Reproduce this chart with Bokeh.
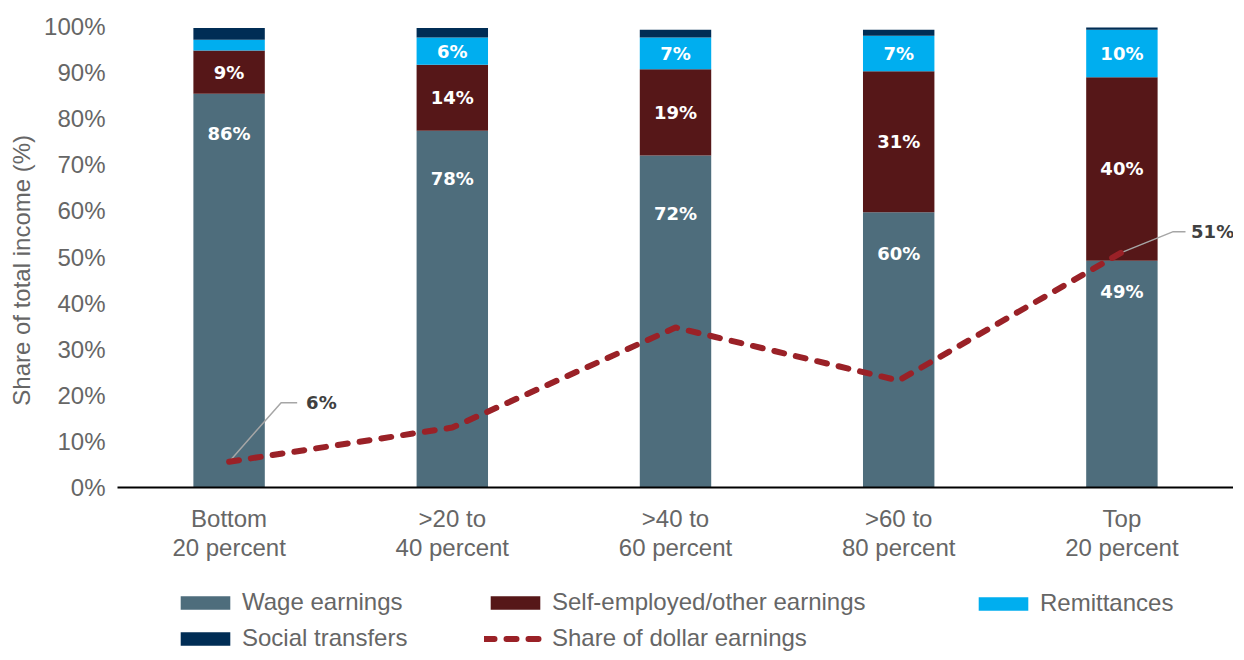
from bokeh.plotting import figure
from bokeh.layouts import column
from bokeh.models import (ColumnDataSource, Range1d, FixedTicker, PrintfTickFormatter,
                          Legend, LegendItem)
from bokeh.core.properties import value
from bokeh.embed import file_html
from bokeh.resources import INLINE

# ---- data ----
categories = ["Bottom\n20 percent", ">20 to\n40 percent", ">40 to\n60 percent",
              ">60 to\n80 percent", "Top\n20 percent"]
wage = [85.4, 77.4, 72.0, 59.7, 49.2]
self_emp = [9.4, 14.3, 18.7, 30.6, 39.8]
remit = [2.3, 5.9, 6.9, 7.7, 10.3]
social = [2.6, 2.1, 1.7, 1.3, 0.5]
dollar = [5.6, 13.0, 34.7, 23.2, 51.0]
wage_labels = ["86%", "78%", "72%", "60%", "49%"]
self_labels = ["9%", "14%", "19%", "31%", "40%"]
remit_labels = ["", "6%", "7%", "7%", "10%"]
dollar_labels = ["6%", "", "", "", "51%"]
wage_label_y = [76.8, 67.0, 59.4, 50.8, 42.5]
series_names = ["Wage earnings", "Self-employed/other earnings", "Remittances",
                "Social transfers", "Share of dollar earnings"]

C_WAGE = "#4E6D7C"
C_SELF = "#561718"
C_REMIT = "#00AEEF"
C_SOCIAL = "#002D55"
C_LINE = "#9A2127"
GRAY = "#666666"
FONT = "Liberation Sans"
BFONT = "DejaVu Sans"

xs = list(range(len(categories)))
b1 = wage
b2 = [a + b for a, b in zip(b1, self_emp)]
b3 = [a + b for a, b in zip(b2, remit)]
b4 = [a + b for a, b in zip(b3, social)]

src = ColumnDataSource(dict(
    x=xs, b1=b1, b2=b2, b3=b3, b4=b4, dollar=dollar,
    wage_lab=wage_labels, wage_y=wage_label_y,
    self_lab=self_labels, self_y=[(a + b) / 2 for a, b in zip(b1, b2)],
    remit_lab=remit_labels, remit_y=[(a + b) / 2 for a, b in zip(b2, b3)],
))

FIG_W = 1233
LEFT = 117
p = figure(width=FIG_W, height=568, x_range=Range1d(-0.5, 4.5), y_range=Range1d(0, 100),
           output_backend="svg", toolbar_location=None,
           min_border_left=LEFT, min_border_right=0, min_border_top=26, min_border_bottom=81)
p.outline_line_color = None
p.grid.visible = False

W = 0.32


def draw_series(fig, **extra):
    return [
        fig.vbar(x="x", bottom=0, top="b1", width=W, source=src, fill_color=C_WAGE, line_color=None, **extra),
        fig.vbar(x="x", bottom="b1", top="b2", width=W, source=src, fill_color=C_SELF, line_color=None, **extra),
        fig.vbar(x="x", bottom="b2", top="b3", width=W, source=src, fill_color=C_REMIT, line_color=None, **extra),
        fig.vbar(x="x", bottom="b3", top="b4", width=W, source=src, fill_color=C_SOCIAL, line_color=None, **extra),
    ]


draw_series(p)

lab_kw = dict(text_font=value(BFONT), text_font_style="bold", text_font_size="18px",
              text_color="white", text_align="center", text_baseline="middle", source=src)
p.text(x="x", y="wage_y", text="wage_lab", **lab_kw)
p.text(x="x", y="self_y", text="self_lab", **lab_kw)
p.text(x="x", y="remit_y", text="remit_lab", **lab_kw)

# leader lines and callouts for the dollar earnings line
for i in (0, len(categories) - 1):
    dx1, dy1, dx2, dxt = (0.233, 12.8, 0.305, 0.345) if i == 0 else (0.23, 4.5, 0.285, 0.31)
    p.line(x=[xs[i], xs[i] + dx1, xs[i] + dx2],
           y=[dollar[i], dollar[i] + dy1, dollar[i] + dy1],
           line_color="#A6A6A6", line_width=1.5)
    p.text(x=[xs[i] + dxt], y=[dollar[i] + dy1], text=[dollar_labels[i]],
           text_font=value(BFONT), text_font_style="bold", text_font_size="18px",
           text_color="#404040", text_align="left", text_baseline="middle")

line_kw = dict(line_color=C_LINE, line_width=6, line_dash="10 12", line_cap="round")
p.line(x="x", y="dollar", source=src, **line_kw)

# axes
p.yaxis.ticker = FixedTicker(ticks=list(range(0, 101, 10)))
p.yaxis.formatter = PrintfTickFormatter(format="%d%%")
p.yaxis.axis_line_color = None
p.yaxis.major_tick_line_color = None
p.yaxis.minor_tick_line_color = None
p.yaxis.major_tick_out = 0
p.yaxis.minor_tick_out = 0
p.yaxis.major_label_text_font = FONT
p.yaxis.major_label_text_font_size = "24px"
p.yaxis.major_label_text_color = GRAY
p.yaxis.major_label_standoff = 12
p.yaxis.axis_label = "Share of total income (%)" + "\u00a0" * 4
p.yaxis.axis_label_text_font = FONT
p.yaxis.axis_label_text_font_size = "24px"
p.yaxis.axis_label_text_font_style = "normal"
p.yaxis.axis_label_text_color = GRAY
p.yaxis.axis_label_standoff = 6

p.xaxis.ticker = FixedTicker(ticks=xs)
p.xaxis.major_label_overrides = {i: c for i, c in zip(xs, categories)}
p.xaxis.axis_line_color = "black"
p.xaxis.axis_line_width = 2
p.xaxis.major_tick_line_color = None
p.xaxis.minor_tick_line_color = None
p.xaxis.major_tick_out = 0
p.xaxis.minor_tick_out = 0
p.xaxis.major_label_text_font = FONT
p.xaxis.major_label_text_font_size = "24px"
p.xaxis.major_label_text_line_height = 1.08
p.xaxis.major_label_text_color = GRAY
p.xaxis.major_label_standoff = 17

# ---- legend panel (separate figure below, hidden copies of the series) ----
q = figure(width=FIG_W, height=84, x_range=Range1d(-0.5, 4.5), y_range=Range1d(0, 100),
           output_backend="svg", toolbar_location=None,
           x_axis_location=None, y_axis_location=None,
           min_border_left=LEFT, min_border_right=0, min_border_top=0, min_border_bottom=0)
q.outline_line_color = None
q.grid.visible = False
lr_wage, lr_self, lr_remit, lr_social = draw_series(q, visible=False)
lr_line = q.line(x="x", y="dollar", source=src, visible=False, **line_kw)

leg_kw = dict(orientation="vertical", glyph_width=62, glyph_height=17, label_standoff=6,
              label_text_font=FONT, label_text_font_size="24px", label_text_color=GRAY,
              padding=0, margin=0, spacing=8, border_line_color=None,
              background_fill_alpha=0, click_policy="none")
cols = [
    (57, [(series_names[0], lr_wage), (series_names[3], lr_social)], 0),
    (367, [(series_names[1], lr_self), (series_names[4], lr_line)], 0),
    (855, [(series_names[2], lr_remit)], 35),
]
for vx, items, vy in cols:
    leg = Legend(items=[LegendItem(label=l, renderers=[r]) for l, r in items],
                 location=(vx, vy), **leg_kw)
    q.add_layout(leg, "center")

layout = column(p, q, spacing=0)
open("out.html", "w").write(file_html(layout, INLINE))
